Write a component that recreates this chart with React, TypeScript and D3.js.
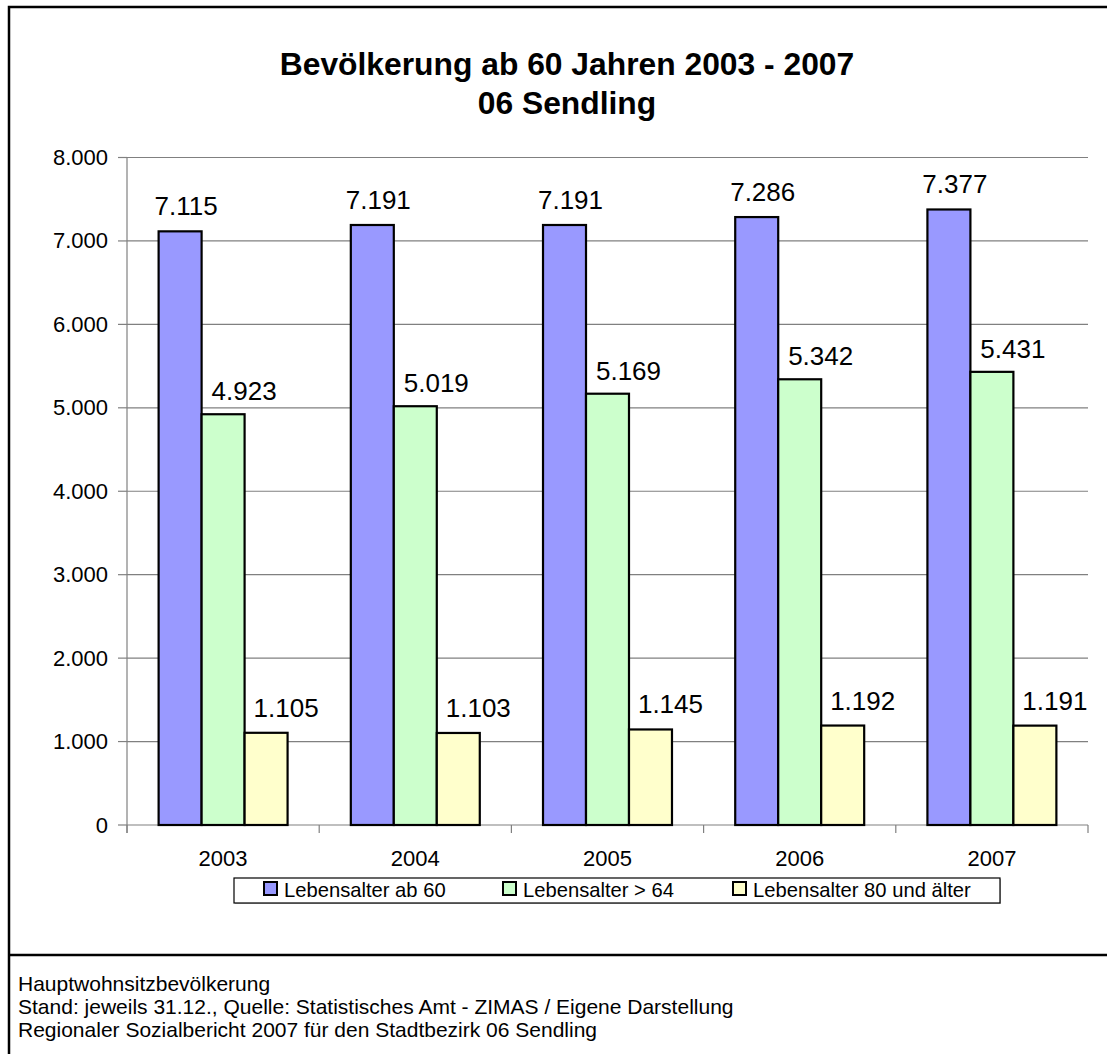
import React from 'react';
import * as d3 from 'd3';

// Data
const years = ['2003', '2004', '2005', '2006', '2007'];
const seriesNames = ['Lebensalter ab 60', 'Lebensalter > 64', 'Lebensalter 80 und älter'];
const ab60 = [7115, 7191, 7191, 7286, 7377];
const ueber64 = [4923, 5019, 5169, 5342, 5431];
const ab80 = [1105, 1103, 1145, 1192, 1191];
const yTicks = [0, 1000, 2000, 3000, 4000, 5000, 6000, 7000, 8000];
const titleLines = ['Bevölkerung ab 60 Jahren 2003 - 2007', '06 Sendling'];
const footerLines = [
  'Hauptwohnsitzbevölkerung',
  'Stand: jeweils 31.12., Quelle: Statistisches Amt - ZIMAS / Eigene Darstellung',
  'Regionaler Sozialbericht 2007 für den Stadtbezirk 06 Sendling',
];

const colors = ['#9999FF', '#CCFFCC', '#FFFFCC'];
// label nudges per series (Excel placed them a bit to the right)
const labelDx = [6, 21, 20];
const labelDy = [16, 14, 16];
const legendX = [264, 503, 733];

const font = '"Liberation Sans", Arial, sans-serif';
const fmt = (v: number) => d3.format(',')(v).replace(/,/g, '.');

const W = 1107;
const H = 1054;
const plot = { left: 127, right: 1088, top: 157.5, bottom: 825 };

export default function App() {
  const allSeries = [ab60, ueber64, ab80];

  const x0 = d3.scaleBand<string>().domain(years).range([plot.left, plot.right]);
  const bw = x0.bandwidth();
  const x1 = d3
    .scaleBand<number>()
    .domain([0, 1, 2])
    .range([bw * 0.1645, bw * 0.8355]);
  const y = d3.scaleLinear().domain([0, 8000]).range([plot.bottom, plot.top]);

  return (
    <svg
      width={W}
      height={H}
      style={{ position: 'absolute', left: 0, top: 0, background: '#fff' }}
      fontFamily={font}
    >
      <rect x={0} y={0} width={W} height={H} fill="#fff" />
      {/* outer frame */}
      <rect x={9} y={7} width={1200} height={1200} fill="none" stroke="#000" strokeWidth={2.5} />
      <line x1={9} x2={W} y1={955} y2={955} stroke="#000" strokeWidth={2.5} />

      {/* title */}
      {titleLines.map((t, i) => (
        <text key={t} x={567} y={75 + i * 39} textAnchor="middle" fontSize={31.8} fontWeight="bold">
          {t}
        </text>
      ))}

      {/* gridlines + y axis */}
      {yTicks.map((t) => (
        <g key={t}>
          {t > 0 && (
            <line x1={plot.left} x2={plot.right} y1={y(t)} y2={y(t)} stroke="#808080" strokeWidth={1.2} />
          )}
          <line x1={118} x2={plot.left} y1={y(t)} y2={y(t)} stroke="#808080" strokeWidth={1.2} />
          <text x={108} y={y(t) + 7.5} textAnchor="end" fontSize={22}>
            {fmt(t)}
          </text>
        </g>
      ))}
      <line x1={plot.left} x2={plot.left} y1={plot.top} y2={833} stroke="#808080" strokeWidth={1.2} />
      <line x1={plot.left} x2={plot.right} y1={plot.bottom} y2={plot.bottom} stroke="#808080" strokeWidth={1.2} />
      {years.concat(['end']).map((yr, i) => {
        const xx = plot.left + i * bw;
        return <line key={yr} x1={xx} x2={xx} y1={plot.bottom} y2={833} stroke="#808080" strokeWidth={1.2} />;
      })}

      {/* bars */}
      {years.map((yr, i) => (
        <g key={yr}>
          {allSeries.map((s, si) => {
            const bx = (x0(yr) as number) + (x1(si) as number);
            return (
              <rect
                key={si}
                x={bx}
                y={y(s[i])}
                width={x1.bandwidth()}
                height={plot.bottom - y(s[i])}
                fill={colors[si]}
                stroke="#000"
                strokeWidth={2.2}
              />
            );
          })}
          {allSeries.map((s, si) => {
            const bx = (x0(yr) as number) + (x1(si) as number) + x1.bandwidth() / 2;
            return (
              <text
                key={'l' + si}
                x={bx + labelDx[si]}
                y={y(s[i]) - labelDy[si]}
                textAnchor="middle"
                fontSize={26}
              >
                {fmt(s[i])}
              </text>
            );
          })}
          <text x={(x0(yr) as number) + bw / 2} y={866} textAnchor="middle" fontSize={22}>
            {yr}
          </text>
        </g>
      ))}

      {/* legend */}
      <rect x={235} y={879} width={766} height={25} fill="#c0c0c0" />
      <rect x={234} y={878} width={766} height={25} fill="#fff" stroke="#000" strokeWidth={1.2} />
      {seriesNames.map((n, i) => (
        <g key={n}>
          <rect x={legendX[i]} y={882} width={13} height={13} fill={colors[i]} stroke="#000" strokeWidth={2} />
          <text x={legendX[i] + 20} y={897} fontSize={20.2}>
            {n}
          </text>
        </g>
      ))}

      {/* footer */}
      {footerLines.map((t, i) => (
        <text key={t} x={18} y={991 + i * 23} fontSize={21}>
          {t}
        </text>
      ))}
    </svg>
  );
}
